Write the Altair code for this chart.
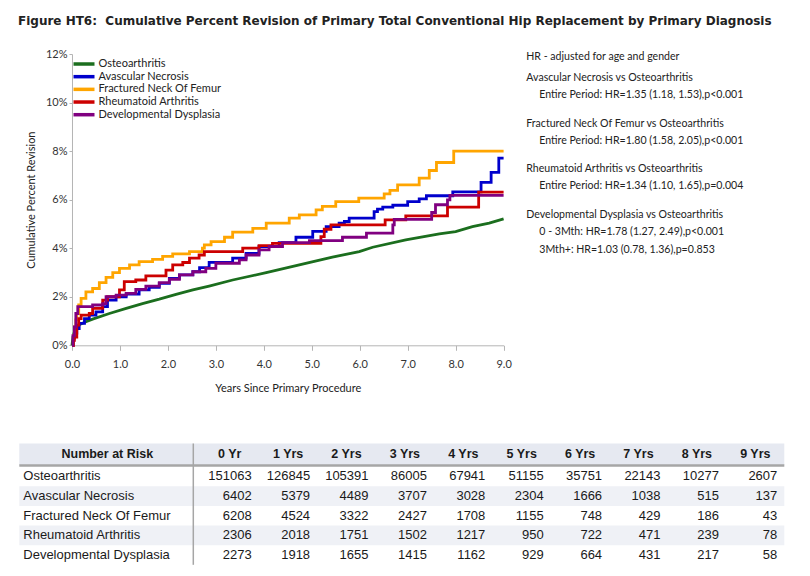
import altair as alt
import pandas as pd

# ---------------- data ----------------
series = ["Osteoarthritis", "Avascular Necrosis", "Fractured Neck Of Femur",
          "Rheumatoid Arthritis", "Developmental Dysplasia"]
colors = ["#1b6e1e", "#0000cc", "#ffa500", "#cc0000", "#800080"]

oa_t = [0, 0.02, 0.05, 0.1, 0.15, 0.29, 0.43, 0.78, 1.13, 1.47, 1.82, 2.17, 2.52, 2.86,
        3.35, 4.05, 4.74, 5.43, 5.99, 6.27, 6.96, 7.66, 8.0, 8.35, 8.7, 9.0]
oa_v = [0, 0.35, 0.55, 0.75, 0.85, 0.97, 1.08, 1.31, 1.52, 1.72, 1.9, 2.1, 2.28, 2.44,
        2.69, 2.99, 3.31, 3.63, 3.86, 4.04, 4.34, 4.59, 4.68, 4.89, 5.03, 5.21]

avn_t = [0, 0.03, 0.05, 0.1, 0.15, 0.26, 0.36, 0.5, 0.64, 0.74, 0.92, 1.13, 1.4, 1.61,
         1.82, 2.03, 2.24, 2.52, 2.66, 2.86, 3.35, 3.63, 3.9, 4.32, 4.67, 5.02, 5.3, 5.57,
         5.68, 5.78, 6.3, 6.37, 6.48, 6.69, 7.0, 7.24, 7.39, 7.94, 8.53, 8.74, 8.9, 9.0]
avn_v = [0, 0.3, 0.5, 0.69, 0.9, 1.1, 1.24, 1.38, 1.59, 1.86, 2.0, 2.11, 2.28, 2.39,
         2.55, 2.76, 2.9, 3.03, 3.2, 3.42, 3.59, 3.79, 4.07, 4.23, 4.45, 4.69, 4.89, 5.03,
         5.1, 5.24, 5.51, 5.61, 5.69, 5.77, 5.92, 6.03, 6.16, 6.32, 6.71, 7.12, 7.71, 7.71]

fnf_t = [0, 0.03, 0.05, 0.08, 0.1, 0.14, 0.19, 0.29, 0.43, 0.57, 0.71, 0.85, 0.99, 1.2,
         1.4, 1.68, 1.89, 2.1, 2.45, 2.72, 2.76, 2.9, 3.18, 3.35, 3.77, 4.05, 4.53, 4.74,
         5.09, 5.22, 5.5, 5.98, 6.51, 6.63, 6.79, 7.24, 7.45, 7.6, 7.96, 9.0]
fnf_v = [0, 0.4, 0.76, 1.05, 1.31, 1.66, 1.93, 2.2, 2.34, 2.58, 2.8, 2.99, 3.17, 3.31,
         3.45, 3.54, 3.66, 3.77, 3.86, 4.0, 4.14, 4.27, 4.45, 4.66, 4.82, 5.03, 5.24, 5.37,
         5.58, 5.72, 5.92, 6.06, 6.24, 6.38, 6.61, 6.89, 7.2, 7.53, 8.0, 8.0]

ra_t = [0, 0.03, 0.05, 0.1, 0.14, 0.19, 0.36, 0.43, 0.64, 0.74, 0.99, 1.09, 1.33, 1.54,
        1.96, 2.1, 2.31, 2.45, 2.65, 2.76, 3.56, 3.9, 4.18, 5.19, 5.26, 5.4, 6.53, 6.96,
        7.83, 8.48, 9.0]
ra_v = [0, 0.2, 0.34, 0.83, 1.1, 1.24, 1.31, 1.52, 1.86, 2.0, 2.28, 2.62, 2.69, 2.86,
        3.1, 3.31, 3.41, 3.59, 3.72, 3.86, 4.0, 4.11, 4.2, 4.48, 4.78, 4.96, 5.17, 5.33,
        5.69, 6.31, 6.31]

dd_t = [0, 0.02, 0.05, 0.08, 0.12, 0.43, 0.64, 0.71, 0.92, 1.13, 1.33, 1.54, 1.82, 2.03,
        2.24, 2.52, 2.79, 3.0, 3.49, 3.63, 3.9, 4.11, 4.39, 4.95, 5.64, 6.14, 6.69, 6.72,
        7.5, 7.58, 7.83, 7.88, 9.0]
dd_v = [0, 0.4, 0.76, 1.31, 1.59, 1.66, 1.72, 2.0, 2.07, 2.14, 2.3, 2.44, 2.58, 2.72,
        2.9, 3.03, 3.17, 3.38, 3.52, 3.72, 3.93, 4.07, 4.23, 4.31, 4.45, 4.62, 4.96, 5.19,
        5.47, 5.79, 5.99, 6.18, 6.18]

year_headers = ["0 Yr", "1 Yrs", "2 Yrs", "3 Yrs", "4 Yrs", "5 Yrs", "6 Yrs", "7 Yrs", "8 Yrs", "9 Yrs"]
risk_oa = [151063, 126845, 105391, 86005, 67941, 51155, 35751, 22143, 10277, 2607]
risk_avn = [6402, 5379, 4489, 3707, 3028, 2304, 1666, 1038, 515, 137]
risk_fnf = [6208, 4524, 3322, 2427, 1708, 1155, 748, 429, 186, 43]
risk_ra = [2306, 2018, 1751, 1502, 1217, 950, 722, 471, 239, 78]
risk_dd = [2273, 1918, 1655, 1415, 1162, 929, 664, 431, 217, 58]

ann_text = [
    "HR - adjusted for age and gender",
    "Avascular Necrosis vs Osteoarthritis",
    "Entire Period: HR=1.35 (1.18, 1.53),p<0.001",
    "Fractured Neck Of Femur vs Osteoarthritis",
    "Entire Period: HR=1.80 (1.58, 2.05),p<0.001",
    "Rheumatoid Arthritis vs Osteoarthritis",
    "Entire Period: HR=1.34 (1.10, 1.65),p=0.004",
    "Developmental Dysplasia vs Osteoarthritis",
    "0 - 3Mth: HR=1.78 (1.27, 2.49),p<0.001",
    "3Mth+: HR=1.03 (0.78, 1.36),p=0.853",
]
ann_group = [0, 1, 1, 2, 2, 3, 3, 4, 4, 4]
ann_line = [0, 0, 1, 0, 1, 0, 1, 0, 1, 2]

# ---------------- tables ----------------
curve_t = [oa_t, avn_t, fnf_t, ra_t, dd_t]
curve_v = [oa_v, avn_v, fnf_v, ra_v, dd_v]
risks = [risk_oa, risk_avn, risk_fnf, risk_ra, risk_dd]

FONT = "Lato"
TFONT = "Liberation Sans"

color_scale = alt.Scale(domain=series, range=colors)

x_main = alt.X("t:Q", scale=alt.Scale(domain=[0, 9], nice=False, zero=False),
               axis=alt.Axis(values=list(range(10)), format=".1f",
                             title="Years Since Primary Procedure", grid=False,
                             domainColor="#b5b5b5", tickColor="#b5b5b5", tickSize=5,
                             labelFlush=False,
                             labelFont=FONT, labelFontSize=11, labelColor="#333",
                             labelPadding=8, titleFont=FONT, titleFontSize=11,
                             titleFontWeight="normal", titleColor="#222", titlePadding=13))
y_main = alt.Y("v:Q", scale=alt.Scale(domain=[0, 12], nice=False),
               axis=alt.Axis(values=list(range(0, 13, 2)), labelExpr="datum.value + '%'",
                             title="Cumulative Percent Revision", grid=False,
                             domainColor="#b5b5b5", tickColor="#b5b5b5", tickSize=3,
                             labelFlush=False,
                             labelFont=FONT, labelFontSize=11, labelColor="#333",
                             labelPadding=2, titleFont=FONT, titleFontSize=11,
                             titleFontWeight="normal", titleColor="#222", titlePadding=9))

line_layers = []
for name, tt, vv in zip(series, curve_t, curve_v):
    df = pd.DataFrame({"series": name, "t": tt, "v": vv})
    interp = "linear" if name == "Osteoarthritis" else "step-after"
    line_layers.append(
        alt.Chart(df).mark_line(interpolate=interp, strokeWidth=2.8).encode(
            x=x_main, y=y_main,
            color=alt.Color("series:N", scale=color_scale, legend=None)))
main = alt.layer(*line_layers)

# legend (manual)
leg_df = pd.DataFrame({"series": series, "i": list(range(len(series)))})
leg_y = alt.Y("i:Q", scale=alt.Scale(domain=[0, 4], range=[10, 60.7], nice=False, zero=False), axis=None)
leg_lines = alt.Chart(leg_df).mark_rule(strokeWidth=3.5).encode(
    x=alt.value(1.5), x2=alt.value(22.5), y=leg_y,
    color=alt.Color("series:N", scale=color_scale, legend=None))
leg_text = alt.Chart(leg_df).mark_text(align="left", baseline="middle", font=FONT,
                                       fontSize=11, color="#222").encode(
    x=alt.value(26.5), y=leg_y, text="series:N")
legend = alt.layer(leg_lines, leg_text)

# annotations
ann_df = pd.DataFrame({"text": ann_text, "g": ann_group, "k": ann_line})
ann_y = alt.Y("g:Q", scale=alt.Scale(domain=[0, 1, 4], range=[3.3, 24.3, 161],
                                     nice=False, zero=False), axis=None)
ann_layers = []
for k, xpos, dy in [(0, 454.3, 0), (1, 467.3, 16.8), (2, 467.3, 34.8)]:
    ann_layers.append(
        alt.Chart(ann_df).transform_filter(f"datum.k == {k}").mark_text(
            align="left", baseline="middle", font=FONT, fontSize=10.6, color="#222", dy=dy
        ).encode(x=alt.value(xpos), y=ann_y, text="text:N"))
annot = alt.layer(*ann_layers)

# number-at-risk table
rows = []
rows.append({"r": 0, "col": -1, "txt": "Number at Risk", "kind": "corner"})
for j, h in enumerate(year_headers):
    rows.append({"r": 0, "col": j + 1, "txt": h, "kind": "head"})
for i, (name, vals) in enumerate(zip(series, risks)):
    rows.append({"r": i + 1, "col": -1, "txt": name, "kind": "label"})
    for j, val in enumerate(vals):
        rows.append({"r": i + 1, "col": j + 1, "txt": str(val), "kind": "num"})
tab_df = pd.DataFrame(rows)
stripe_df = pd.DataFrame({"r": [0, 1, 2, 3, 4, 5]})

tx = alt.Scale(domain=[-1, 0, 10], range=[-48.7, 121.3, 705.3], nice=False, zero=False)
ty = alt.Scale(domain=[0, 1, 5], range=[400.5, 422.5, 501], nice=False, zero=False)

stripes = alt.Chart(stripe_df).transform_filter("datum.r % 2 == 0").transform_calculate(
    r0="datum.r - 0.5", r1="datum.r + 0.5", a="-1", b="10"
).mark_rect(xOffset=-4, x2Offset=7).encode(
    x=alt.X("a:Q", scale=tx, axis=None), x2=alt.X2("b:Q"),
    y=alt.Y("r0:Q", scale=ty, axis=None), y2="r1:Q",
    color=alt.condition("datum.r == 0", alt.value("#e6e9f1"), alt.value("#eff1f6")))

head_rule = alt.Chart(stripe_df).transform_filter("datum.r == 0").transform_calculate(
    a="-1", b="10", yy="0.5"
).mark_rule(color="#a6a6a6", strokeWidth=2.5, xOffset=-4, x2Offset=7).encode(
    x=alt.X("a:Q", scale=tx, axis=None), x2="b:Q",
    y=alt.Y("yy:Q", scale=ty, axis=None))
vert_rule = alt.Chart(stripe_df).transform_filter("datum.r == 0").transform_calculate(
    a="0", y0="-0.5", y1="5.5"
).mark_rule(color="#a6a6a6", strokeWidth=1.5).encode(
    x=alt.X("a:Q", scale=tx, axis=None),
    y=alt.Y("y0:Q", scale=ty, axis=None), y2="y1:Q")

def tab_text(kind, align, bold=False, dx=0):
    return alt.Chart(tab_df).transform_filter(f"datum.kind == '{kind}'").mark_text(
        align=align, baseline="middle", font=TFONT, fontSize=13 if not bold else 12.5,
        fontWeight="bold" if bold else "normal", color="#1a1a1a", dx=dx
    ).encode(x=alt.X("col:Q", scale=tx, axis=None),
             y=alt.Y("r:Q", scale=ty, axis=None), text="txt:N")

table = alt.layer(
    stripes, head_rule, vert_rule,
    tab_text("corner", "center", True, 84),
    tab_text("head", "center", True, -22),
    tab_text("label", "left"),
    tab_text("num", "right"),
)

chart = alt.layer(main, legend, annot, table).resolve_scale(
    x="independent", y="independent"
).properties(
    width=431.6, height=291.3,
    padding={"left": 10, "top": 7, "right": 5, "bottom": 5},
    title=alt.TitleParams(
        "Figure HT6:\u00a0 Cumulative Percent Revision of Primary Total Conventional Hip Replacement by Primary Diagnosis",
        anchor="start", frame="bounds", font="DejaVu Sans", fontSize=12, fontWeight="bold",
        color="#222", offset=20)
).configure_view(stroke=None)

chart.save("out.html", embed_options={"renderer": "svg", "actions": False})
